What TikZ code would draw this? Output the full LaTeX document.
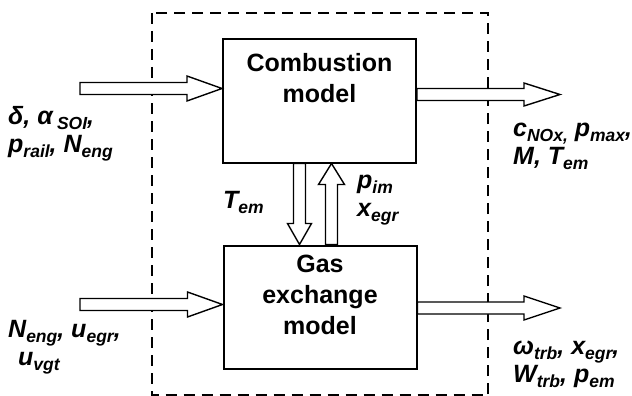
\documentclass[tikz,border=0pt]{standalone}
\usepackage{fontspec}
\setmainfont{Liberation Sans}
\usetikzlibrary{positioning,calc}

\newcommand{\lsub}[1]{\raisebox{-0.22em}{\fontsize{17.5}{17.5}\selectfont #1}}

\tikzset{
    model/.style={rectangle,draw,line width=2pt,minimum width=193pt,minimum height=123pt,inner sep=0pt},
    modeltext/.style={align=center,inner sep=0pt,font=\fontsize{25}{31}\selectfont\bfseries},
    sig/.style={anchor=base west,align=left,inner sep=0pt,font=\fontsize{25}{28}\selectfont\bfseries\itshape},
    frame/.style={line width=2.4pt,dash pattern=on 11pt off 7pt},
    hollow/.style args={#1 and #2}{draw,fill=white,line width=1.4pt,line join=miter,
        to path={($(\tikztostart)!6pt!90:(\tikztotarget)$)
            -- ($(\tikztotarget)!#1!(\tikztostart)!6pt!90:(\tikztotarget)$)
            -- ($(\tikztotarget)!#1!(\tikztostart)!#2!90:(\tikztotarget)$)
            -- (\tikztotarget)
            -- ($(\tikztotarget)!#1!(\tikztostart)!#2!-90:(\tikztotarget)$)
            -- ($(\tikztotarget)!#1!(\tikztostart)!6pt!-90:(\tikztotarget)$)
            -- ($(\tikztostart)!6pt!-90:(\tikztotarget)$) -- cycle}},
}

\begin{document}
\begin{tikzpicture}[x=1pt,y=-1pt]
\useasboundingbox (0,0) rectangle (632,396);

% subsystem border
\draw[frame] (152,13) rectangle (488,395.5);

% models
\node[model] (comb) at (319.5,101) {};
\node[model] (gas)  at (320,307) {};
\node[modeltext,anchor=base] (combtxt) at ($(comb.north)+(0,64)$) {Combustion\\model};
\node[modeltext,anchor=base] (gastxt)  at ($(gas.north)+(0,90)$) {Gas\\exchange\\model};

% arrow ends
\coordinate (combin)  at (80,88.5);
\coordinate (gasin)   at (80,304.5);
\coordinate (combout) at (560,94.5);
\coordinate (gasout)  at (560,308);
\coordinate (combtip) at (comb.west |- combin);
\coordinate (gastip)  at (gas.west |- gasin);
\coordinate (combsrc) at (comb.east |- combout);
\coordinate (gassrc)  at (gas.east |- gasout);
\coordinate (downsrc) at ($(comb.south)+(-20,0)$);
\coordinate (downtip) at ($(gas.north)+(-20.5,0)$);
\coordinate (upsrc)   at ($(gas.north)+(11.5,0)$);
\coordinate (uptip)   at ($(comb.south)+(12,0)$);

% signal arrows
\draw[hollow=35pt and 12.5pt] (combin) to (combtip);
\draw[hollow=35pt and 12.5pt] (gasin) to (gastip);
\draw[hollow=36pt and 11.5pt] (combsrc) to (combout);
\draw[hollow=36pt and 12pt] (gassrc) to (gasout);
\draw[hollow=21pt and 12pt] (downsrc) to (downtip);
\draw[hollow=21pt and 13pt] (upsrc) to (uptip);

% signal names
\node[sig] (combinlbl)  at (8,152)  {δ, α\,\lsub{SOI},\\p\lsub{rail}, N\lsub{eng}};
\node[sig] (gasinlbl)   at (8,365)  {N\lsub{eng}, u\lsub{egr},\\\hspace*{10pt}u\lsub{vgt}};
\node[sig] (comboutlbl) at (513,164) {c\lsub{NOx,} p\lsub{max},\\M, T\lsub{em}};
\node[sig] (gasoutlbl)  at (513,382) {ω\lsub{trb}, x\lsub{egr},\\W\lsub{trb}, p\lsub{em}};
\node[sig] (downlbl)    at (223,208) {T\lsub{em}};
\node[sig] (uplbl)      at (357,216) {p\lsub{im}\\x\lsub{egr}};
\end{tikzpicture}
\end{document}
